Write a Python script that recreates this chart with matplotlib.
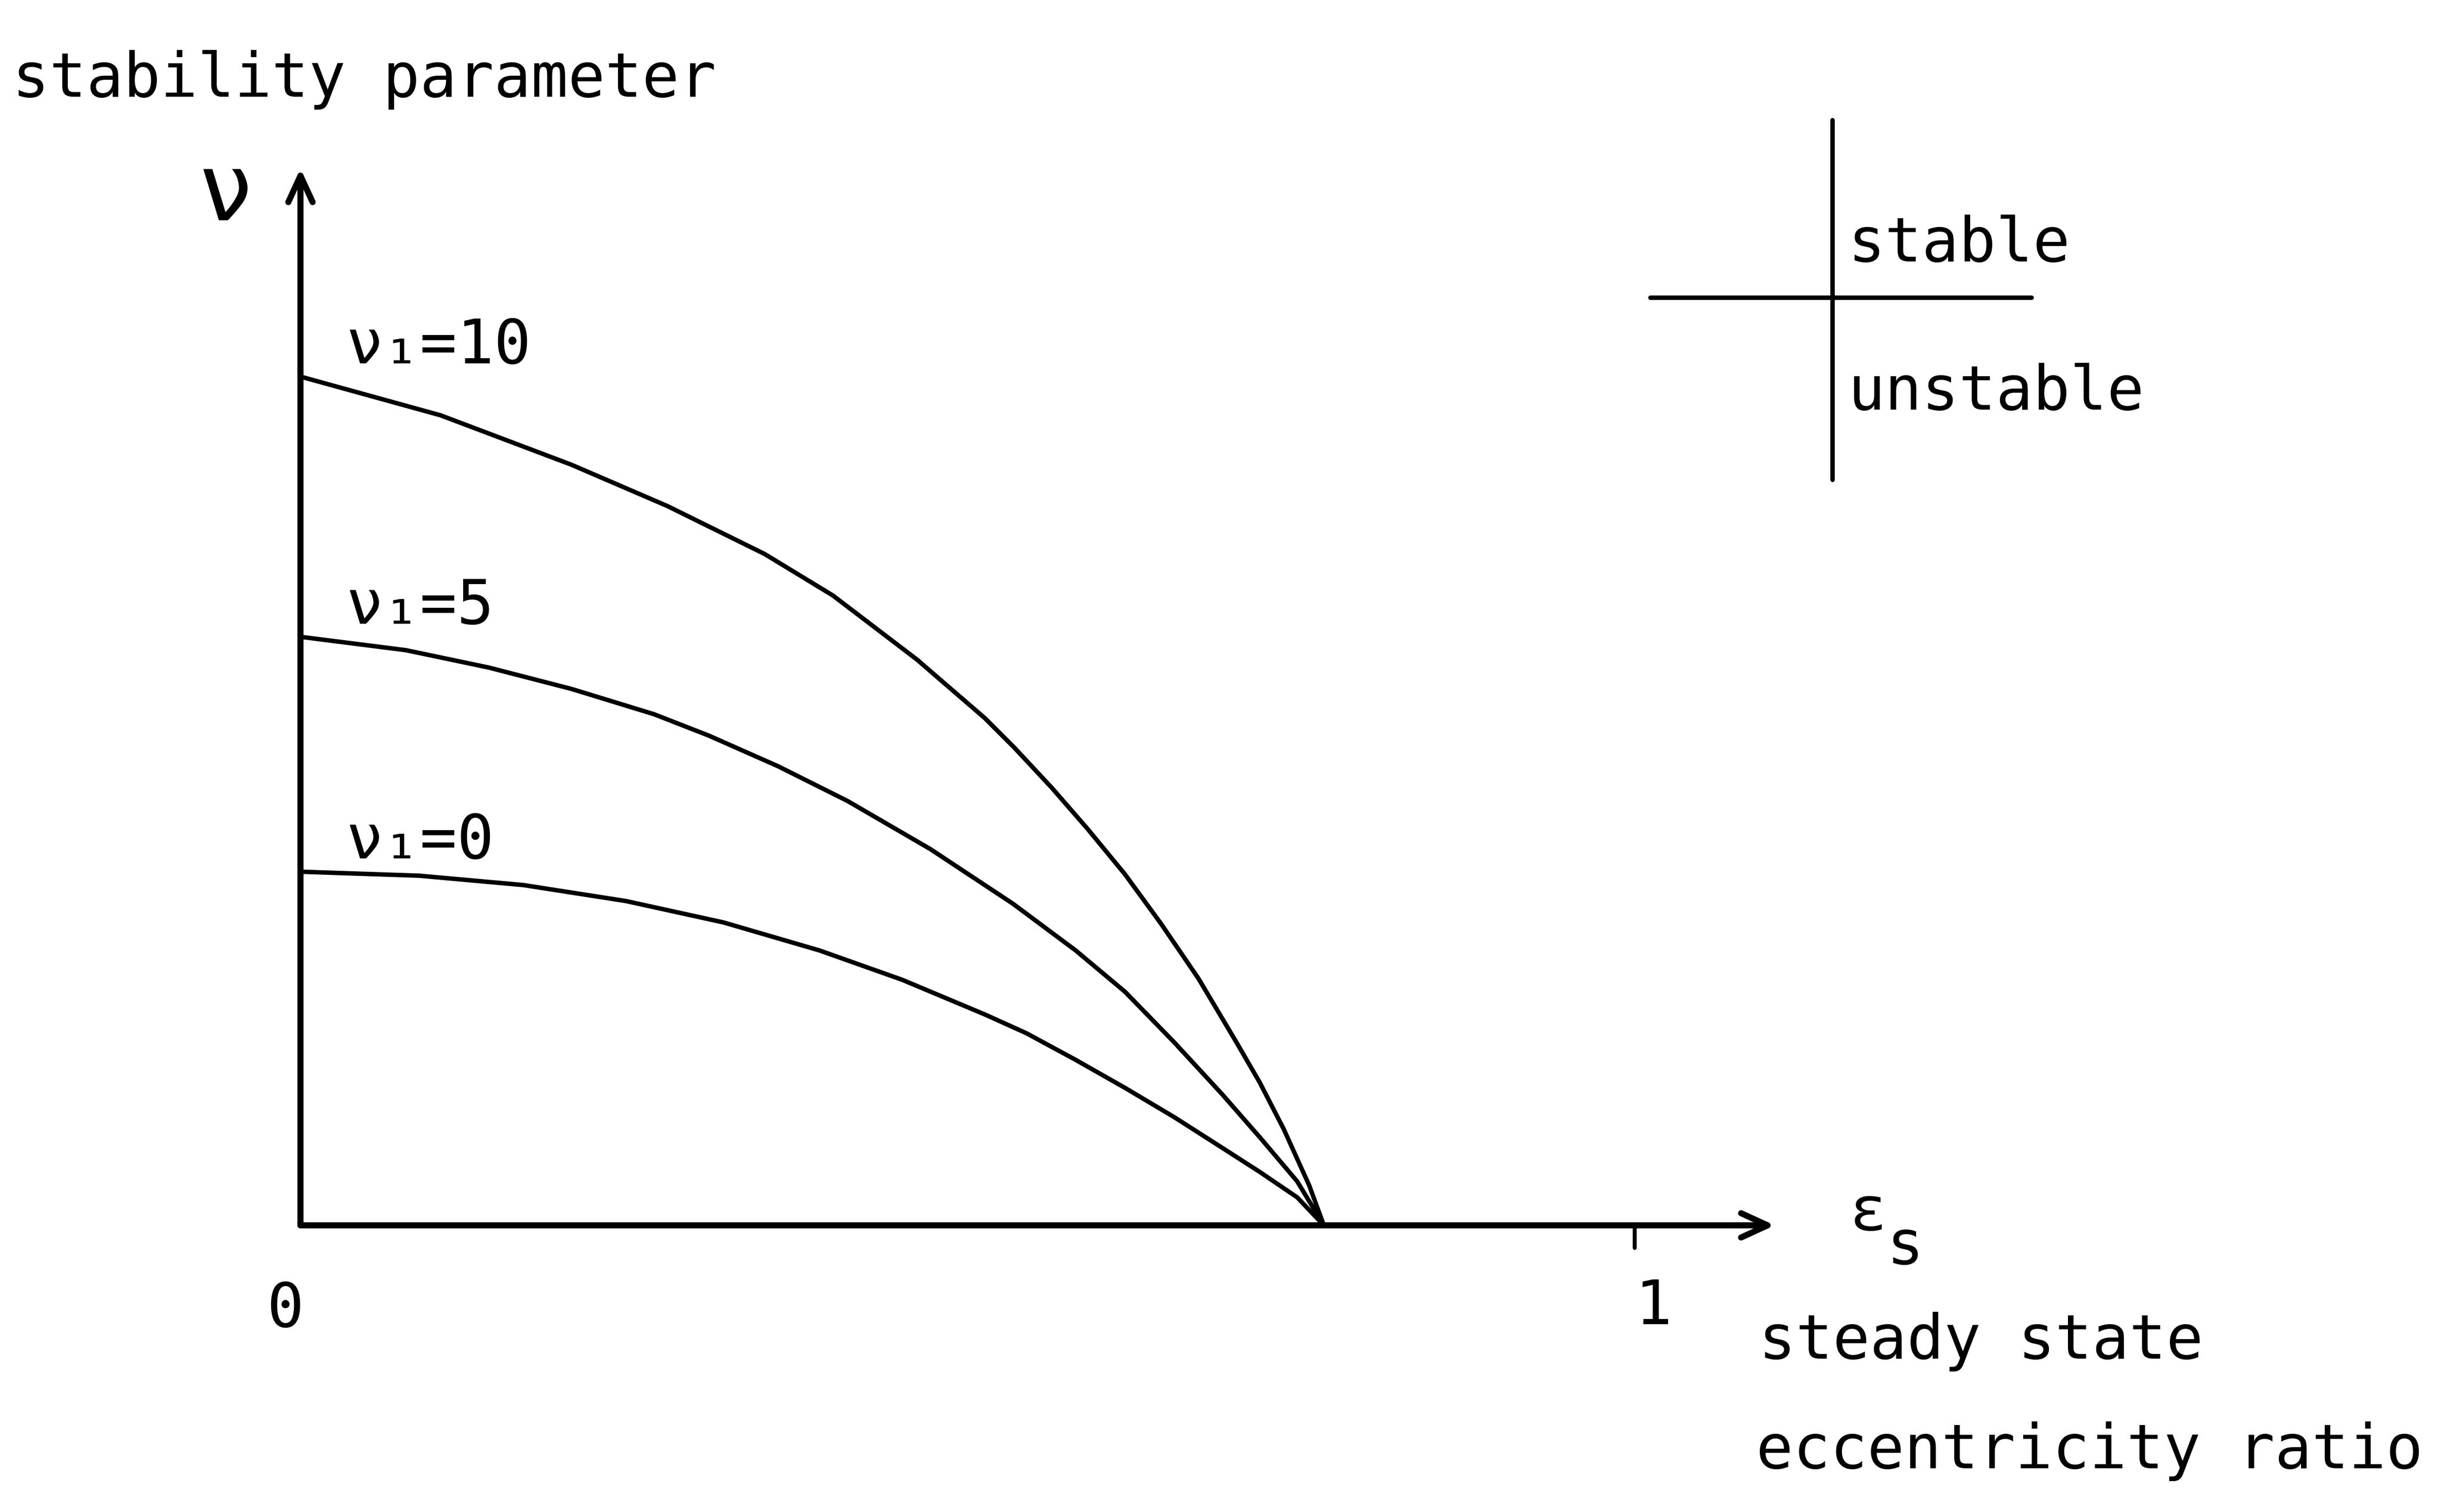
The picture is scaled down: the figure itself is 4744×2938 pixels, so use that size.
import matplotlib.pyplot as plt

# boundary curves: steady state eccentricity ratio vs stability parameter
eps_10 = [0, 0.105, 0.203, 0.275, 0.348, 0.399, 0.462, 0.513, 0.535, 0.563, 0.590,
          0.618, 0.645, 0.673, 0.701, 0.719, 0.737, 0.756, 0.767]
nu_10 = [6.36, 6.07, 5.70, 5.39, 5.03, 4.72, 4.24, 3.80, 3.58, 3.28, 2.97,
         2.63, 2.26, 1.85, 1.38, 1.07, 0.72, 0.30, 0]

eps_5 = [0, 0.079, 0.141, 0.203, 0.265, 0.306, 0.358, 0.410, 0.472, 0.534, 0.581,
         0.618, 0.655, 0.691, 0.719, 0.747, 0.767]
nu_5 = [4.41, 4.31, 4.18, 4.02, 3.83, 3.67, 3.44, 3.18, 2.82, 2.41, 2.06,
        1.75, 1.37, 0.98, 0.66, 0.33, 0]

eps_0 = [0, 0.089, 0.167, 0.244, 0.317, 0.389, 0.451, 0.513, 0.544, 0.581, 0.618,
         0.655, 0.691, 0.719, 0.747, 0.767]
nu_0 = [2.65, 2.62, 2.55, 2.43, 2.27, 2.06, 1.84, 1.58, 1.44, 1.24, 1.03,
        0.81, 0.58, 0.40, 0.21, 0]

curve_labels = ['ν₁=10', 'ν₁=5', 'ν₁=0']
tick_labels = ['0', '1']

FONT = ['DejaVu Sans Mono', 'DejaVu Sans']
FS = 86

fig = plt.figure(figsize=(47.44, 29.38), dpi=100)
ax = fig.add_axes([0, 0, 1, 1])
ax.set_xlim(-0.2252, 1.6043)
ax.set_ylim(-2.148, 9.182)
ax.axis('off')

# axes drawn as arrows
arrow = dict(arrowstyle='->,head_length=0.37,head_width=0.17', lw=8.5,
             color='black', shrinkA=0, shrinkB=0, mutation_scale=100,
             capstyle='round', joinstyle='round')
ax.annotate('', xy=(0, 7.92), xytext=(0, 0), arrowprops=arrow)
ax.annotate('', xy=(1.105, 0), xytext=(0, 0), arrowprops=arrow)
ax.plot([1, 1], [0, -0.17], color='black', lw=5.5, solid_capstyle='round')

curves = [(eps_10, nu_10), (eps_5, nu_5), (eps_0, nu_0)]
for (xs, ys), lab in zip(curves, curve_labels):
    ax.plot(xs, ys, color='black', lw=6.2, solid_joinstyle='round',
            solid_capstyle='round')
    ax.text(0.034, ys[0] + 0.1, lab, family=FONT, fontsize=FS,
            ha='left', va='baseline')

ax.text(-0.0116, -0.76, tick_labels[0], family=FONT, fontsize=FS, ha='center', va='baseline')
ax.text(1.014, -0.74, tick_labels[1], family=FONT, fontsize=FS, ha='center', va='baseline')

# axis titles
ax.text(-0.216, 8.457, 'stability parameter', family=FONT, fontsize=FS,
        ha='left', va='baseline')
ax.text(-0.056, 7.725, 'ν', family=FONT, fontsize=130, ha='center', va='center')
ax.text(1.161, -0.035, 'ε', family=FONT, fontsize=FS, ha='left', va='baseline')
ax.text(1.189, -0.29, 's', family=FONT, fontsize=FS, ha='left', va='baseline')
ax.text(1.093, -1.00, 'steady state', family=FONT, fontsize=FS, ha='left', va='baseline')
ax.text(1.091, -1.82, 'eccentricity ratio', family=FONT, fontsize=FS,
        ha='left', va='baseline')

# stable / unstable key
ax.plot([1.148, 1.148], [8.284, 5.588], color='black', lw=6.2, solid_capstyle='round')
ax.plot([1.0116, 1.2973], [6.953, 6.953], color='black', lw=6.2, solid_capstyle='round')
ax.text(1.1597, 7.223, 'stable', family=FONT, fontsize=FS, ha='left', va='baseline')
ax.text(1.1597, 6.113, 'unstable', family=FONT, fontsize=FS, ha='left', va='baseline')

fig.savefig('out.png', dpi=100, facecolor='white')
